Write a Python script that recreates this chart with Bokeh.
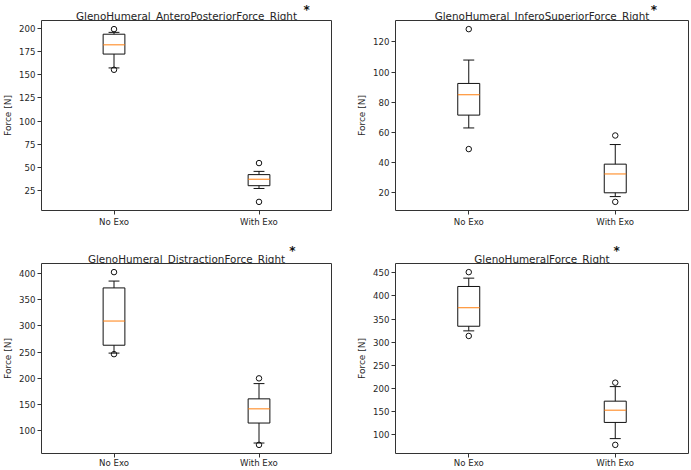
from bokeh.plotting import figure
from bokeh.models import FixedTicker, Label, Range1d
from bokeh.layouts import column, row
from bokeh.embed import file_html
from bokeh.resources import INLINE

# ---------------- data ----------------
groups = ["No Exo", "With Exo"]
positions = [1, 2]
ylabel = "Force [N]"

titles = [
    "GlenoHumeral_AnteroPosteriorForce_Right",
    "GlenoHumeral_InferoSuperiorForce_Right",
    "GlenoHumeral_DistractionForce_Right",
    "GlenoHumeralForce_Right",
]

# AnteroPosterior
ap_whisker_low = [157.5, 27.0]
ap_q1 = [172.5, 30.0]
ap_median = [182.5, 37.0]
ap_q3 = [194.0, 42.0]
ap_whisker_high = [196.0, 45.5]
ap_outliers = [[155.5, 199.5], [12.5, 54.5]]
ap_ticks = [25, 50, 75, 100, 125, 150, 175, 200]

# InferoSuperior
is_whisker_low = [63.0, 17.5]
is_q1 = [71.5, 20.0]
is_median = [85.0, 32.5]
is_q3 = [92.5, 39.0]
is_whisker_high = [108.0, 52.0]
is_outliers = [[49.0, 128.5], [14.0, 58.0]]
is_ticks = [20, 40, 60, 80, 100, 120]

# Distraction
di_whisker_low = [248.0, 77.0]
di_q1 = [263.0, 115.0]
di_median = [309.0, 142.0]
di_q3 = [372.0, 161.0]
di_whisker_high = [385.0, 190.0]
di_outliers = [[246.0, 402.0], [73.5, 200.0]]
di_ticks = [100, 150, 200, 250, 300, 350, 400]

# Total GlenoHumeral force
gh_whisker_low = [324.5, 91.5]
gh_q1 = [334.5, 126.5]
gh_median = [374.5, 153.0]
gh_q3 = [420.5, 172.5]
gh_whisker_high = [438.5, 204.0]
gh_outliers = [[313.5, 451.5], [78.0, 212.5]]
gh_ticks = [100, 150, 200, 250, 300, 350, 400, 450]

# ---------------- style ----------------
FONT = "DejaVu Sans"
TEXT = "#262626"
LINE = "#111111"
BOX_W = 0.15
CAP_W = 0.075
TITLE_SIZE = 10.4
STAR_SIZE = 12
# DejaVu Sans advance widths (em) used to place the superscript star
DJV = {
    'A': .684, 'C': .698, 'D': .770, 'E': .632, 'F': .575, 'G': .775, 'H': .752,
    'I': .295, 'P': .603, 'R': .695, 'S': .635, '_': .500,
    'a': .613, 'b': .635, 'c': .550, 'd': .635, 'e': .615, 'f': .352, 'g': .635,
    'h': .634, 'i': .278, 'l': .278, 'm': .974, 'n': .634, 'o': .612, 'p': .635,
    'r': .411, 's': .521, 't': .392, 'u': .634,
}


def text_width(s, size):
    return sum(DJV.get(ch, 0.6) for ch in s) * size


def make_title(title, width, height, mb_left, mb_right, baseline, star_mid, star_dx):
    t = figure(width=width, height=height, output_backend="svg", toolbar_location=None,
               title=None, x_axis_type=None, y_axis_type=None,
               x_range=Range1d(0.5, 2.5), y_range=Range1d(height, 0),
               min_border_left=mb_left, min_border_right=mb_right,
               min_border_top=0, min_border_bottom=0)
    t.outline_line_color = None
    t.grid.visible = False
    t.background_fill_color = "white"
    t.border_fill_color = "white"
    t.add_layout(Label(x=1.5, y=baseline, text=title, text_align="center",
                       text_baseline="alphabetic", text_font=FONT,
                       text_font_size=f"{TITLE_SIZE}px", text_color=TEXT))
    t.add_layout(Label(x=1.5, y=star_mid, text="*",
                       x_offset=text_width(title, TITLE_SIZE) / 2 + star_dx,
                       text_align="center", text_baseline="middle",
                       text_font=FONT, text_font_size=f"{STAR_SIZE}px",
                       text_font_style="bold", text_color=LINE))
    return t


def make_panel(wlo, q1, med, q3, whi, outliers, ticks,
               width, height, mb_left, mb_right, mb_top, mb_bottom, xstandoff):
    all_vals = list(wlo) + list(whi)
    for o in outliers:
        all_vals += list(o)
    lo, hi = min(all_vals), max(all_vals)
    span = hi - lo
    y0, y1 = lo - 0.05 * span, hi + 0.05 * span

    p = figure(width=width, height=height, output_backend="svg",
               toolbar_location=None, title=None, x_range=Range1d(0.5, 2.5),
               y_range=Range1d(y0, y1),
               min_border_left=mb_left, min_border_right=mb_right,
               min_border_top=mb_top, min_border_bottom=mb_bottom)
    p.background_fill_color = "white"
    p.border_fill_color = "white"
    p.outline_line_color = "#333333"
    p.outline_line_width = 1
    p.grid.visible = False

    left = [x - BOX_W / 2 for x in positions]
    right = [x + BOX_W / 2 for x in positions]
    cl = [x - CAP_W / 2 for x in positions]
    cr = [x + CAP_W / 2 for x in positions]
    # whiskers
    p.segment(x0=positions, x1=positions, y0=q3, y1=whi, line_color=LINE, line_width=1)
    p.segment(x0=positions, x1=positions, y0=q1, y1=wlo, line_color=LINE, line_width=1)
    # caps
    p.segment(x0=cl, x1=cr, y0=whi, y1=whi, line_color=LINE, line_width=1)
    p.segment(x0=cl, x1=cr, y0=wlo, y1=wlo, line_color=LINE, line_width=1)
    # boxes
    p.quad(left=left, right=right, bottom=q1, top=q3, fill_color=None,
           line_color=LINE, line_width=1)
    # medians
    p.segment(x0=left, x1=right, y0=med, y1=med, line_color="#ff7f0e", line_width=1)
    # outliers
    ox, oy = [], []
    for x, vals in zip(positions, outliers):
        for v in vals:
            ox.append(x)
            oy.append(v)
    p.scatter(x=ox, y=oy, marker="circle", size=5.5, fill_color=None,
              line_color=LINE, line_width=1)

    # axes
    p.xaxis.ticker = FixedTicker(ticks=positions)
    p.xaxis.major_label_overrides = {x: g for x, g in zip(positions, groups)}
    p.xaxis.axis_label = None
    p.yaxis.ticker = FixedTicker(ticks=ticks)
    p.yaxis.axis_label = ylabel
    for ax in (p.xaxis, p.yaxis):
        ax.axis_line_color = None
        ax.major_tick_line_color = "#333333"
        ax.major_tick_out = 4
        ax.major_tick_in = 0
        ax.minor_tick_line_color = None
        ax.major_label_text_font = FONT
        ax.major_label_text_font_size = "8.6px"
        ax.major_label_text_color = TEXT
        ax.major_label_standoff = 2
        ax.axis_label_text_font = FONT
        ax.axis_label_text_font_size = "9px"
        ax.axis_label_text_font_style = "normal"
        ax.axis_label_text_color = TEXT
        ax.axis_label_standoff = 3
    p.xaxis.major_label_standoff = xstandoff
    return p


LW, RW = 350, 341          # left / right column widths
LB, LR = 36, 19            # left column frame borders
RB, RR = 45, 3             # right column frame borders

t1 = make_title(titles[0], LW, 20, LB, LR, 15, 9.5, 9)
p1 = make_panel(ap_whisker_low, ap_q1, ap_median, ap_q3, ap_whisker_high,
                ap_outliers, ap_ticks, LW, 216, LB, LR, 0, 26, 2)
t2 = make_title(titles[1], RW, 20, RB, RR, 15, 9.5, 4)
p2 = make_panel(is_whisker_low, is_q1, is_median, is_q3, is_whisker_high,
                is_outliers, is_ticks, RW, 216, RB, RR, 0, 26, 2)
t3 = make_title(titles[2], LW, 27, LB, LR, 22, 14.5, 7)
p3 = make_panel(di_whisker_low, di_q1, di_median, di_q3, di_whisker_high,
                di_outliers, di_ticks, LW, 207, LB, LR, 0, 16, 0)
t4 = make_title(titles[3], RW, 27, RB, RR, 22, 14.5, 6.5)
p4 = make_panel(gh_whisker_low, gh_q1, gh_median, gh_q3, gh_whisker_high,
                gh_outliers, gh_ticks, RW, 207, RB, RR, 0, 16, 0)

layout = column(row(column(t1, p1), column(t2, p2)),
                row(column(t3, p3), column(t4, p4)))
open("out.html", "w").write(file_html(layout, INLINE))
